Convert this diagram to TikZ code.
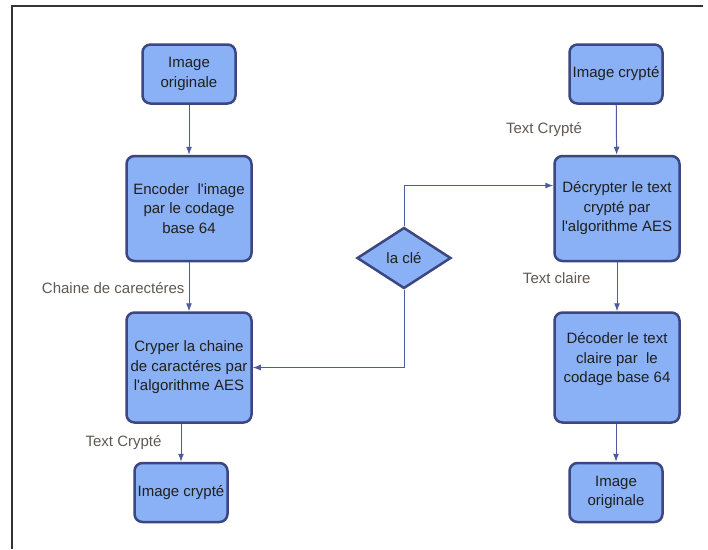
\documentclass[tikz,border=0pt]{standalone}
\usepackage{fontspec}
\setmainfont{Liberation Sans}[Ligatures=TeXOff]
\usetikzlibrary{positioning,shapes.geometric,arrows.meta}
\definecolor{boxfill}{RGB}{138,176,245}
\definecolor{boxdraw}{RGB}{60,70,128}
\definecolor{linecol}{RGB}{78,90,158}
\definecolor{lblcol}{RGB}{96,88,82}

\begin{document}
\begin{tikzpicture}[x=1pt,y=1pt]
	\tikzstyle{main}=[rectangle, rounded corners=8pt, fill=boxfill, draw=boxdraw, line width=2.5pt, align=center, inner sep=0pt, text=black!88, font=\fontsize{15}{19.5}\selectfont, node distance=50pt]
\tikzstyle{small}=[main, minimum width=93pt, minimum height=59pt]
\tikzstyle{big}=[main, minimum width=125pt, minimum height=105pt]
\tikzstyle{bigger}=[main, minimum width=125pt, minimum height=110pt]
\tikzstyle{cle}=[diamond, fill=boxfill, draw=boxdraw, line width=2.5pt, inner sep=0pt, minimum width=94pt, minimum height=61pt, text=black!88, font=\fontsize{15}{19.5}\selectfont]
\tikzstyle{connect}=[-{Latex[length=8pt,width=6pt]}, line width=1pt, draw=linecol]
\tikzstyle{lbl}=[text=lblcol, font=\fontsize{15}{19.5}\selectfont, inner sep=0pt]
  \useasboundingbox (0,0) rectangle (708,-549);
  \draw[line width=2pt, black!80] (703,-6) -- (12,-6) -- (12,-549);
  % left column
  \node[small] (orig) at (189,-74) {Image\\originale};
  \node[big] (encode) [below=of orig] {Encoder\ \ l'image\\par le codage\\base 64};
  \node[bigger] (cryper) [below=49pt of encode] {Cryper la chaine\\de caractéres par\\l'algorithme AES};
  \node[small] (imgcr) [below=38pt of cryper, xshift=-8pt] {Image crypté};
  % key
  \node[cle] (cle) at (404,-258) {la clé};
  % right column
  \node[small] (imgcr2) at (616,-74) {Image crypté};
  \node[big] (decrypt) [below=of imgcr2, xshift=1pt] {Décrypter le text\\crypté par\\l'algorithme AES};
  \node[bigger] (decode) [below=49pt of decrypt] {Décoder le text\\claire par\ \ le\\codage base 64\\\mbox{}};
  \node[small] (orig2) [below=38pt of decode, xshift=-1pt] {Image\\originale};
  \path
        (orig) edge [connect] (encode)
        (encode) edge [connect] node[lbl, left=4pt, yshift=-1.5pt] {Chaine de carectéres} (cryper)
        (imgcr2) edge [connect] node[lbl, left=34pt] {Text Crypté} (decrypt)
        (decrypt) edge [connect] node[lbl, left=26pt, yshift=9pt] {Text claire} (decode)
        (decode.south -| orig2.north) edge [connect] (orig2);
  \draw[connect] (imgcr.north |- cryper.south) -- node[lbl, left=19pt] {Text Crypté} (imgcr);
  \draw[connect] (cle.north) |- ([yshift=23pt]decrypt.west);
  \draw[connect] (cle.south) |- (cryper.east);
\end{tikzpicture}
\end{document}
